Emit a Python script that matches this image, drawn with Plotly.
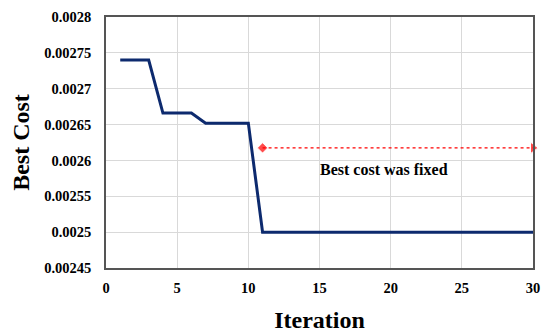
import plotly.graph_objects as go

iterations = list(range(1, 31))
best_cost = [0.00274, 0.00274, 0.00274,
             0.002666, 0.002666, 0.002666,
             0.002652, 0.002652, 0.002652, 0.002652] + [0.0025] * 20
arrow_x = [11, 30]
arrow_y = [0.0026175, 0.0026175]
annot_text = "Best cost was fixed"
x_ticks = [0, 5, 10, 15, 20, 25, 30]
y_ticks = [0.00245, 0.0025, 0.00255, 0.0026, 0.00265, 0.0027, 0.00275, 0.0028]
y_labels = ["0.00245", "0.0025", "0.00255", "0.0026", "0.00265", "0.0027", "0.00275", "0.0028"]

font = "Liberation Serif"
fig = go.Figure()
fig.add_trace(go.Scatter(x=iterations, y=best_cost, mode="lines",
                         line=dict(color="#0d2a6e", width=3), showlegend=False))
fig.add_trace(go.Scatter(x=arrow_x, y=arrow_y, mode="lines+markers",
                         line=dict(color="red", width=1.3, dash="dot"),
                         marker=dict(symbol=["diamond", "triangle-right"], size=[8, 10], color="red"),
                         showlegend=False, cliponaxis=False))
fig.add_annotation(x=19.5, y=0.002587, text="<b>" + annot_text + "</b>", showarrow=False,
                   font=dict(family=font, size=16, color="black"))

axis_common = dict(showgrid=True, gridcolor="#d9d9d9", gridwidth=1, showline=True,
                   linecolor="#555555", linewidth=1.5, mirror=True, ticks="", zeroline=False,
                   tickfont=dict(family=font, size=14.5, color="black"))
fig.update_xaxes(range=[0, 30], tickvals=x_ticks, ticktext=["<b>%d</b>" % v for v in x_ticks],
                 ticklabelstandoff=6,
                 title=dict(text="<b>Iteration</b>", font=dict(family=font, size=24, color="black"), standoff=16),
                 **axis_common)
fig.update_yaxes(range=[0.00245, 0.0028], tickvals=y_ticks, ticktext=["<b>%s</b>" % s for s in y_labels],
                 ticklabelstandoff=10,
                 title=dict(text="<b>Best Cost</b>", font=dict(family=font, size=24, color="black"), standoff=13),
                 **axis_common)
fig.update_layout(width=542, height=326, margin=dict(l=98, r=17, t=9, b=66, autoexpand=False),
                  plot_bgcolor="white", paper_bgcolor="white")
fig.write_html("out.html")
